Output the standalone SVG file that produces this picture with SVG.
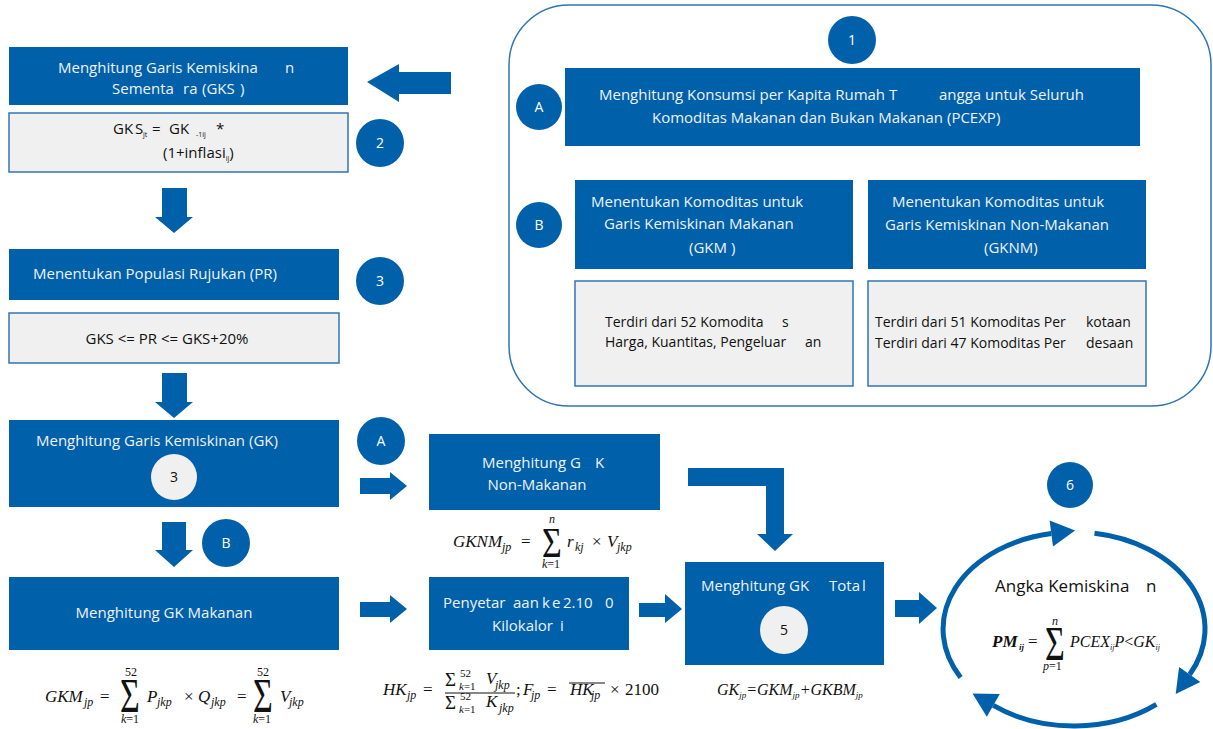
<svg xmlns="http://www.w3.org/2000/svg" width="1213" height="729" viewBox="0 0 1213 729">
<style>
.bx{fill:#0160AA}
.gb{fill:#F0F0F0;stroke:#2F75B5;stroke-width:1.5}
.dot{fill:#0160AA}
.gdot{fill:#F0F0F0}
.t{font-family:"Open Sans","Noto Sans",sans-serif;white-space:pre}
.w{fill:#EEF3F8}
.k{fill:#111}
.n{font-family:"Open Sans","Noto Sans",sans-serif;font-size:14px;text-anchor:middle;fill:#fff}
.nk{fill:#111}
.m{font-family:"Liberation Serif","Times New Roman",serif;font-style:italic;fill:#111}
.u{font-style:normal}
.ar{fill:#0160AA}
.arc{fill:none;stroke:#0160AA;stroke-width:5}
</style>
<rect width="1213" height="729" fill="#fff"/>

<g id="panel1">
<rect x="509" y="5" width="702" height="401" rx="60" fill="none" stroke="#2F75B5" stroke-width="1.5"/>
</g>

<g id="connectors">
<polygon class="ar" points="367,82 399,64 399,72 451,72 451,94 399,94 399,102"/>
<polygon class="ar" points="162,188 187,188 187,217 193,217 174,233 155,217 162,217"/>
<polygon class="ar" points="162,373 187,373 187,402 193,402 174,418 155,402 162,402"/>
<polygon class="ar" points="162,522 186,522 186,550 193,550 174,567 155,550 162,550"/>
<polygon class="ar" points="360,478 390,478 390,472 407,486 390,500 390,494 360,494"/>
<polygon class="ar" points="360,602 390,602 390,595 407,609 390,623 390,617 360,617"/>
<polygon class="ar" points="639,603 665,603 665,594 682,609 665,623 665,617 639,617"/>
<polygon class="ar" points="688,468 784,468 784,534 793,534 775,551 757,534 766,534 766,486 688,486"/>
<polygon class="ar" points="895,600 919,600 919,592 937,608 919,624 919,617 895,617"/>
<path class="arc" d="M960.6,677.5 A131,97 0 0 1 1051.3,533.5"/>
<polygon class="ar" points="1075.1,530.4 1053.0,546.4 1049.6,520.6"/>
<path class="arc" d="M1094.5,533.2 A131,97 0 0 1 1189.7,674.5"/>
<polygon class="ar" points="1175.7,694.0 1179.1,666.9 1200.3,682.1"/>
<path class="arc" d="M1156.4,704.4 A131,97 0 0 1 993.3,705.4"/>
<polygon class="ar" points="972.5,693.4 999.8,694.1 986.8,716.7"/>
</g>

<g id="n-gks">
<rect class="bx" x="9" y="47" width="339" height="58"/>
<text class="t w" font-size="15" x="58" y="73">Menghitung Garis Kemiskina<tspan x="285">n</tspan></text>
<text class="t w" font-size="15" x="112" y="94">Sementa<tspan x="183">ra</tspan><tspan x="202">(GKS</tspan><tspan x="240">)</tspan></text>
</g>

<g id="n-gks-formula">
<rect class="gb" x="9" y="113" width="339" height="59"/>
<text class="t k" font-size="15" x="113" y="134">GK<tspan x="135">S</tspan><tspan x="143" dy="3" font-size="7">jt</tspan><tspan x="152" dy="-3">=</tspan><tspan x="169">GK</tspan><tspan x="196" dy="3" font-size="7">-1ij</tspan><tspan x="216" dy="-3">*</tspan></text>
<text class="t k" font-size="15" x="163" y="158">(1+inflasi<tspan dy="3" font-size="7">ij</tspan><tspan dy="-3">)</tspan></text>
</g>
<g id="c2"><circle class="dot" cx="380" cy="143" r="24"/><text class="n" x="380" y="148">2</text></g>

<g id="n-pr">
<rect class="bx" x="9" y="249" width="330" height="51"/>
<text class="t w" font-size="15" x="33" y="279">Menentukan Populasi Rujukan (PR)</text>
</g>
<g id="c3"><circle class="dot" cx="380" cy="281" r="24"/><text class="n" x="380" y="286">3</text></g>

<g id="n-pr-formula">
<rect class="gb" x="9" y="313" width="330" height="50"/>
<text class="t k" font-size="15" x="167" y="344" text-anchor="middle">GKS &lt;= PR &lt;= GKS+20%</text>
</g>

<g id="n-gk">
<rect class="bx" x="9" y="420" width="330" height="87"/>
<text class="t w" font-size="15" x="36" y="446">Menghitung Garis Kemiskinan (GK)</text>
<circle class="gdot" cx="174" cy="477" r="23"/><text class="n nk" x="174" y="482">3</text>
</g>
<g id="cA2"><circle class="dot" cx="381" cy="441" r="24"/><text class="n" x="381" y="446">A</text></g>
<g id="cB2"><circle class="dot" cx="226" cy="543" r="24"/><text class="n" x="226" y="548">B</text></g>

<g id="n-gkm">
<rect class="bx" x="9" y="577" width="330" height="73"/>
<text class="t w" font-size="15" x="164" y="618" text-anchor="middle">Menghitung GK Makanan</text>
</g>

<g id="f-gkm" font-size="17">
<text class="m" x="45" y="702">GKM</text><text class="m" font-size="12" x="84" y="706">jp</text>
<text class="m u" x="100" y="702">=</text>
<text class="m u" font-size="40" transform="translate(120,712) scale(0.85,1.2)">Σ</text>
<text class="m u" font-size="12" x="125" y="676">52</text>
<text class="m" font-size="12" x="121" y="723">k<tspan class="u">=1</tspan></text>
<text class="m" x="147" y="702">P</text><text class="m" font-size="12" x="157" y="706">jkp</text>
<text class="m u" x="184" y="702">×</text>
<text class="m" x="198" y="702">Q</text><text class="m" font-size="12" x="211" y="706">jkp</text>
<text class="m u" x="237" y="702">=</text>
<text class="m u" font-size="40" transform="translate(253,712) scale(0.85,1.2)">Σ</text>
<text class="m u" font-size="12" x="257" y="676">52</text>
<text class="m" font-size="12" x="253" y="723">k<tspan class="u">=1</tspan></text>
<text class="m" x="280" y="702">V</text><text class="m" font-size="12" x="289" y="706">jkp</text>
</g>

<g id="n-gknm">
<rect class="bx" x="429" y="434" width="231" height="76"/>
<text class="t w" font-size="15" x="482" y="468">Menghitung G<tspan x="595">K</tspan></text>
<text class="t w" font-size="15" x="537" y="490" text-anchor="middle">Non-Makanan</text>
</g>

<g id="f-gknm" font-size="17">
<text class="m" x="453" y="547">GKNM</text><text class="m" font-size="12" x="502" y="551">jp</text>
<text class="m u" x="521" y="547">=</text>
<text class="m u" font-size="40" transform="translate(542,557) scale(0.85,1.05)">Σ</text>
<text class="m" font-size="12" x="549" y="523">n</text>
<text class="m" font-size="12" x="542" y="568">k<tspan class="u">=1</tspan></text>
<text class="m" x="567" y="547">r</text><text class="m" font-size="12" x="575" y="551">kj</text>
<text class="m u" x="592" y="547">×</text>
<text class="m" x="607" y="547">V</text><text class="m" font-size="12" x="617" y="551">jkp</text>
</g>

<g id="n-kalori">
<rect class="bx" x="429" y="577" width="200" height="73"/>
<text class="t w" font-size="15" x="443" y="608">Penyetar<tspan x="513">aan</tspan><tspan x="542">k</tspan><tspan x="552">e</tspan><tspan x="563">2.10</tspan><tspan x="605">0</tspan></text>
<text class="t w" font-size="15" x="492" y="631">Kilokalor<tspan x="560">i</tspan></text>
</g>

<g id="f-hk" font-size="17">
<text class="m" x="383" y="695">HK</text><text class="m" font-size="12" x="407" y="699">jp</text>
<text class="m u" x="423" y="695">=</text>
<text class="m u" font-size="19" x="445" y="686">Σ</text>
<text class="m u" font-size="11" x="460" y="677">52</text>
<text class="m" font-size="11" x="459" y="690">k<tspan class="u">=1</tspan></text>
<text class="m" x="486" y="684">V</text><text class="m" font-size="12" x="495" y="689">jkp</text>
<line x1="445" y1="693" x2="515" y2="693" stroke="#111" stroke-width="1"/>
<text class="m u" font-size="19" x="445" y="709">Σ</text>
<text class="m u" font-size="11" x="460" y="700">52</text>
<text class="m" font-size="11" x="459" y="713">k<tspan class="u">=1</tspan></text>
<text class="m" x="486" y="707">K</text><text class="m" font-size="12" x="499" y="712">jkp</text>
<text class="m u" x="516" y="695">;</text>
<text class="m" x="523" y="695">F</text><text class="m" font-size="12" x="531" y="699">jp</text>
<text class="m u" x="547" y="695">=</text>
<line x1="569" y1="683" x2="605" y2="683" stroke="#111" stroke-width="1"/>
<text class="m" x="570" y="695">HK</text><text class="m" font-size="12" x="591" y="699">jp</text>
<text class="m u" x="610" y="695">×</text>
<text class="m u" x="625" y="695">2100</text>
</g>

<g id="n-total">
<rect class="bx" x="685" y="562" width="199" height="103"/>
<text class="t w" font-size="15" x="701" y="591">Menghitung GK<tspan x="829">Tota</tspan><tspan x="862">l</tspan></text>
<circle class="gdot" cx="784" cy="630" r="24"/><text class="n nk" x="784" y="635">5</text>
</g>

<g id="f-gk">
<text class="m" font-size="16" x="717" y="695">GK<tspan font-size="9" dy="3">jp</tspan><tspan dy="-3">=GKM</tspan><tspan font-size="9" dy="3">jp</tspan><tspan dy="-3">+GKBM</tspan><tspan font-size="9" dy="3">jp</tspan></text>
</g>

<g id="c6"><circle class="dot" cx="1070" cy="485" r="23"/><text class="n" x="1070" y="490">6</text></g>

<g id="n-angka" font-size="17">
<text class="t k" font-size="17" x="995" y="592">Angka Kemiskina<tspan x="1146">n</tspan></text>
<text class="m" font-weight="bold" x="992" y="647">PM</text><text class="m" font-weight="bold" font-size="9" x="1019" y="650">ij</text>
<text class="m u" x="1028" y="647">=</text>
<text class="m u" font-size="40" transform="translate(1045,660) scale(0.85,1.2)">Σ</text>
<text class="m" font-size="12" x="1052" y="625">n</text>
<text class="m" font-size="12" x="1043" y="670">p<tspan class="u">=1</tspan></text>
<text class="m" font-size="16" x="1070" y="647">PCEX<tspan font-size="8" dy="3">ij</tspan><tspan dy="-3">P</tspan><tspan class="u">&lt;</tspan>GK<tspan font-size="8" dy="3">ij</tspan></text>
</g>

<g id="c1"><circle class="dot" cx="852" cy="40" r="24"/><text class="n" x="852" y="45">1</text></g>

<g id="n-pcexp">
<rect class="bx" x="565" y="68" width="575" height="78"/>
<text class="t w" font-size="15" x="599" y="100">Menghitung Konsumsi per Kapita Rumah T<tspan x="939">angga untuk Seluruh</tspan></text>
<text class="t w" font-size="15" x="652" y="123">Komoditas Makanan dan Bukan Makanan (PCEXP)</text>
</g>
<g id="cA1"><circle class="dot" cx="539" cy="107" r="23"/><text class="n" x="539" y="112">A</text></g>

<g id="n-kgkm">
<rect class="bx" x="575" y="180" width="278" height="89"/>
<text class="t w" font-size="15" x="591" y="207">Menentukan Komoditas untuk</text>
<text class="t w" font-size="15" x="604" y="229">Garis Kemiskinan Makanan</text>
<text class="t w" font-size="15" x="689" y="253">(GKM )</text>
</g>
<g id="n-kgknm">
<rect class="bx" x="868" y="180" width="278" height="89"/>
<text class="t w" font-size="15" x="892" y="207">Menentukan Komoditas untuk</text>
<text class="t w" font-size="15" x="885" y="230">Garis Kemiskinan Non-Makanan</text>
<text class="t w" font-size="15" x="984" y="253">(GKNM)</text>
</g>
<g id="cB1"><circle class="dot" cx="539" cy="225" r="23"/><text class="n" x="539" y="230">B</text></g>

<g id="n-52">
<rect class="gb" x="575" y="281" width="278" height="105"/>
<text class="t k" font-size="14" x="605" y="327">Terdiri dari 52 Komodita<tspan x="782">s</tspan></text>
<text class="t k" font-size="14" x="605" y="347">Harga, Kuantitas, Pengeluar<tspan x="805">an</tspan></text>
</g>
<g id="n-51">
<rect class="gb" x="868" y="281" width="278" height="105"/>
<text class="t k" font-size="14" x="875" y="327">Terdiri dari 51 Komoditas Per<tspan x="1086">kotaan</tspan></text>
<text class="t k" font-size="14" x="875" y="348">Terdiri dari 47 Komoditas Per<tspan x="1086">desaan</tspan></text>
</g>
</svg>
